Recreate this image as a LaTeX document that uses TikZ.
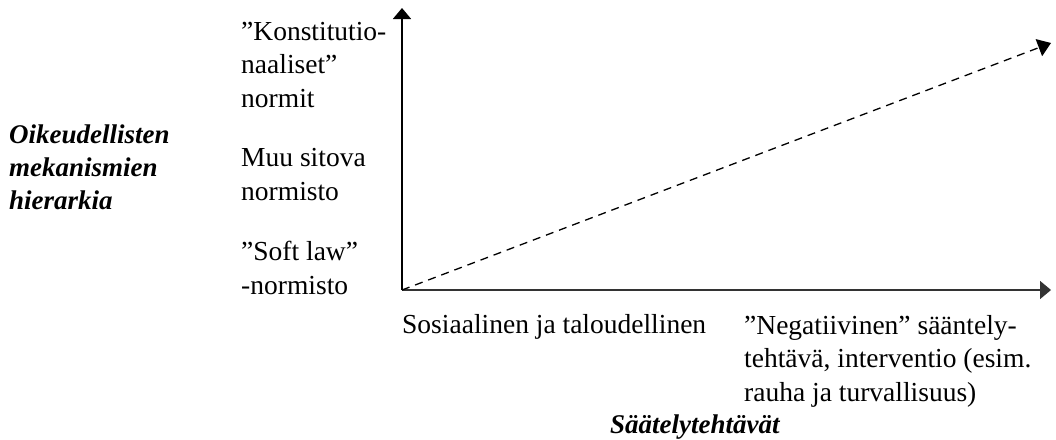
\documentclass[tikz,border=0pt]{standalone}
\usepackage{fontspec}
\setmainfont{Liberation Serif}
\usetikzlibrary{arrows.meta}
\begin{document}
\begin{tikzpicture}[x=1pt,y=-1pt,
  lbl/.style={anchor=base west,inner sep=0pt,align=left,font=\fontsize{27.5}{33.5}\selectfont},
  ttl/.style={anchor=base west,inner sep=0pt,align=left,font=\fontsize{27}{33}\selectfont\bfseries\itshape},
  axis/.style={line width=1.6pt,-{Triangle[length=11pt,width=18pt]}},
  diag/.style={line width=1.3pt,dash pattern=on 8pt off 6pt,-{Triangle[length=13pt,width=18pt]}}]
\useasboundingbox (0,0) rectangle (1056,439);
\coordinate (O) at (402,290);
\coordinate (Ytop) at (402,8);
\coordinate (Xend) at (1051,290);
\coordinate (Dend) at (1051,43);
\draw[axis] (O) -- (Ytop);
\draw[axis,black!80] (O) -- (Xend);
\draw[diag] (O) -- (Dend);
% multi-line nodes: base anchor = baseline of the last line
\node[lbl] (konst) at (241,107) {”Konstitutio-\\naaliset”\\normit};
\node[lbl] (muu) at (241,200) {Muu sitova\\normisto};
\node[lbl] (soft) at (241,294) {”Soft law”\\-normisto};
\node[ttl] (hier) at (9,209) {Oikeudellisten\\mekanismien\\hierarkia};
\node[lbl] (sos) at (402,333) {Sosiaalinen ja taloudellinen};
\node[lbl] (neg) at (744,401) {”Negatiivinen” sääntely-\\tehtävä, interventio (esim.\\rauha ja turvallisuus)};
\node[ttl] (saat) at (610,433) {Säätelytehtävät};
\end{tikzpicture}
\end{document}
